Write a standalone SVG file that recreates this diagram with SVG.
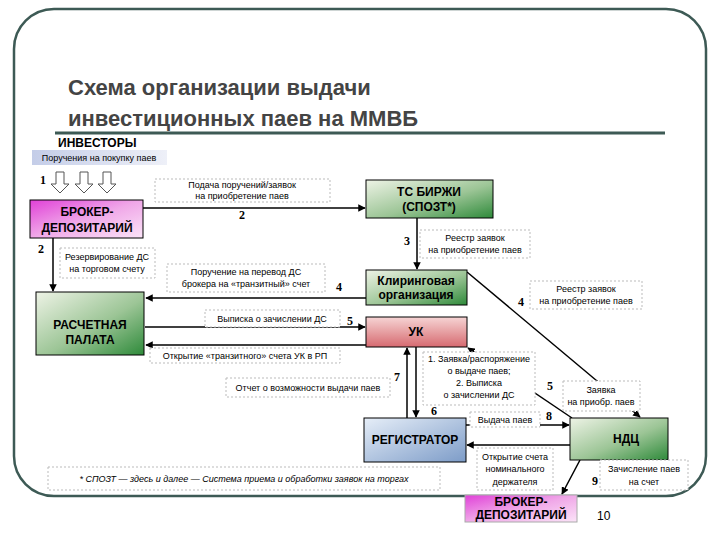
<svg xmlns="http://www.w3.org/2000/svg" width="720" height="540" viewBox="0 0 720 540">
<defs>
<linearGradient id="gG" x1="0" y1="0" x2="1" y2="1"><stop offset="0" stop-color="#eef3e6"/><stop offset="0.55" stop-color="#9cc596"/><stop offset="1" stop-color="#2e8a3a"/></linearGradient>
<linearGradient id="gP" x1="0" y1="0" x2="1" y2="1"><stop offset="0" stop-color="#e040d8"/><stop offset="0.5" stop-color="#f0a8e8"/><stop offset="1" stop-color="#fbe4f8"/></linearGradient>
<linearGradient id="gR" x1="0" y1="0" x2="0" y2="1"><stop offset="0" stop-color="#f6d4d4"/><stop offset="1" stop-color="#d66a70"/></linearGradient>
<linearGradient id="gB" x1="0" y1="0" x2="1" y2="1"><stop offset="0" stop-color="#e6eef8"/><stop offset="1" stop-color="#7d9cc8"/></linearGradient>
<linearGradient id="gL" x1="0" y1="0" x2="1" y2="0"><stop offset="0" stop-color="#c4cde8"/><stop offset="1" stop-color="#eef0f8"/></linearGradient>
<marker id="ah" viewBox="0 0 10 10" refX="9" refY="5" markerWidth="5" markerHeight="5" orient="auto"><path d="M0,0 L10,5 L0,10 z" fill="#000"/></marker>
</defs>
<style>
.t{font-family:"Liberation Sans",Arial,sans-serif;}
.lb{font-family:"Liberation Sans",Arial,sans-serif;font-size:9px;fill:#000;text-anchor:middle;}
.nt{font-family:"Liberation Sans",Arial,sans-serif;font-size:12px;font-weight:bold;fill:#000;text-anchor:middle;}
.num{font-family:"Liberation Serif",serif;font-size:12px;font-weight:bold;}
.dl{fill:#fff;stroke:#bbb;stroke-dasharray:2,2;stroke-width:1;}
.box{stroke:#000;stroke-width:1;}
.c{stroke:#000;stroke-width:1.5;fill:none;marker-end:url(#ah);}
.cl{stroke:#000;stroke-width:1.5;fill:none;}
</style>
<rect width="720" height="540" fill="#fff"/>
<rect x="14" y="9" width="692" height="487" rx="40" fill="none" stroke="#3d5a55" stroke-width="2.5"/>
<text class="t" x="68" y="95" font-size="22" font-weight="bold" fill="#444">Схема организации выдачи</text>
<text class="t" x="68" y="126" font-size="22" font-weight="bold" fill="#444">инвестиционных паев на ММВБ</text>
<line x1="55" y1="133" x2="665" y2="133" stroke="#3d5a55" stroke-width="3"/>

<g id="connectors">
<line class="c" x1="143" y1="208" x2="365" y2="208"/>
<line class="c" x1="53" y1="238" x2="53" y2="291"/>
<line class="c" x1="417" y1="218" x2="417" y2="269"/>
<line class="c" x1="366" y1="298" x2="146" y2="298"/>
<line class="c" x1="467" y1="272" x2="640" y2="417"/>
<line class="c" x1="145" y1="327" x2="365" y2="327"/>
<line class="c" x1="366" y1="345" x2="146" y2="345"/>
<line class="c" x1="407" y1="418" x2="407" y2="348"/>
<line class="c" x1="416" y1="347" x2="416" y2="417"/>
<line class="c" x1="572" y1="418" x2="468" y2="348"/>
<line class="c" x1="466" y1="425" x2="569" y2="425"/>
<line class="c" x1="570" y1="445" x2="467" y2="445"/>
<line class="c" x1="580" y1="460" x2="562" y2="494"/>
</g>

<g id="investors">
<text class="t" x="58" y="147" font-size="12" font-weight="bold">ИНВЕСТОРЫ</text>
<rect x="32" y="150" width="135" height="15" fill="url(#gL)"/>
<text class="lb" x="99" y="161">Поручения на покупку паев</text>
<text class="num" x="40" y="184">1</text>
<g fill="#fff" stroke="#555" stroke-width="1">
<path d="M56,172 h8 v12 h5 l-9,9 l-9,-9 h5 z"/>
<path d="M80,172 h8 v12 h5 l-9,9 l-9,-9 h5 z"/>
<path d="M103,172 h8 v12 h5 l-9,9 l-9,-9 h5 z"/>
</g>
</g>
<g id="broker1">
<rect class="box" x="30" y="200" width="113" height="38" fill="url(#gP)"/>
<text class="nt" x="87" y="216">БРОКЕР-</text><text class="nt" x="87" y="232">ДЕПОЗИТАРИЙ</text>
</g>
<g id="ts">
<rect class="box" x="366" y="180" width="127" height="38" fill="url(#gG)"/>
<text class="nt" x="429" y="196">ТС БИРЖИ</text><text class="nt" x="429" y="211">(СПОЗТ*)</text>
</g>
<g id="rp">
<rect class="box" x="36" y="292" width="108" height="63" fill="url(#gG)"/>
<text class="nt" x="90" y="329">РАСЧЕТНАЯ</text><text class="nt" x="90" y="344">ПАЛАТА</text>
</g>
<g id="clearing">
<rect class="box" x="366" y="270" width="101" height="35" fill="url(#gG)"/>
<text class="nt" x="416" y="285" font-size="11">Клиринговая</text><text class="nt" x="416" y="299" font-size="11">организация</text>
</g>
<g id="uk">
<rect class="box" x="366" y="317" width="101" height="30" fill="url(#gR)"/>
<text class="nt" x="416" y="336">УК</text>
</g>
<g id="registrar">
<rect class="box" x="364" y="418" width="102" height="44" fill="url(#gB)"/>
<text class="nt" x="415" y="444">РЕГИСТРАТОР</text>
</g>
<g id="ndc">
<rect class="box" x="570" y="418" width="98" height="42" fill="url(#gG)"/>
<text class="nt" x="626" y="443">НДЦ</text>
</g>
<g id="broker2">
<rect x="465" y="495" width="112" height="27" fill="url(#gP)" stroke="#aaa"/>
<text class="nt" x="521" y="506" font-size="11">БРОКЕР-</text><text class="nt" x="521" y="519" font-size="11">ДЕПОЗИТАРИЙ</text>
</g>

<g id="labels">
<rect class="dl" x="155" y="179" width="175" height="23"/>
<text class="lb" x="242" y="188">Подача поручений/заявок</text><text class="lb" x="242" y="199">на приобретение паев</text>
<text class="num" x="239" y="219">2</text>
<text class="num" x="38" y="253">2</text>
<rect class="dl" x="60" y="248" width="95" height="30"/>
<text class="lb" x="107" y="260">Резервирование ДС</text><text class="lb" x="107" y="272">на торговом счету</text>
<rect class="dl" x="167" y="264" width="158" height="28"/>
<text class="lb" x="246" y="275">Поручение на перевод ДС</text><text class="lb" x="246" y="287">брокера на «транзитный» счет</text>
<text class="num" x="336" y="291">4</text>
<text class="num" x="404" y="245">3</text>
<rect class="dl" x="420" y="230" width="110" height="28"/>
<text class="lb" x="475" y="241">Реестр заявок</text><text class="lb" x="475" y="253">на приобретение паев</text>
<text class="num" x="518" y="306">4</text>
<rect class="dl" x="530" y="281" width="112" height="28"/>
<text class="lb" x="586" y="292">Реестр заявок</text><text class="lb" x="586" y="304">на приобретение паев</text>
<rect class="dl" x="205" y="310" width="135" height="17"/>
<text class="lb" x="272" y="322">Выписка о зачислении ДС</text>
<text class="num" x="347" y="325">5</text>
<rect class="dl" x="150" y="348" width="190" height="15"/>
<text class="lb" x="245" y="359">Открытие «транзитного» счета УК в РП</text>
<rect class="dl" x="226" y="378" width="164" height="19"/>
<text class="lb" x="308" y="391">Отчет о возможности выдачи паев</text>
<text class="num" x="394" y="381">7</text>
<text class="num" x="431" y="415">6</text>
<rect class="dl" x="423" y="352" width="112" height="53"/>
<text class="lb" x="479" y="362">1. Заявка/распоряжение</text><text class="lb" x="479" y="374">о выдаче паев;</text><text class="lb" x="479" y="386">2. Выписка</text><text class="lb" x="479" y="398">о зачислении ДС</text>
<text class="num" x="547" y="390">5</text>
<rect class="dl" x="563" y="381" width="77" height="30"/>
<text class="lb" x="601" y="393">Заявка</text><text class="lb" x="601" y="405">на приобр. паев</text>
<rect class="dl" x="470" y="412" width="70" height="15"/>
<text class="lb" x="505" y="423">Выдача паев</text>
<text class="num" x="546" y="420">8</text>
<rect class="dl" x="477" y="448" width="76" height="42"/>
<text class="lb" x="515" y="460">Открытие счета</text><text class="lb" x="515" y="472">номинального</text><text class="lb" x="515" y="485">держателя</text>
<text class="num" x="592" y="485">9</text>
<rect class="dl" x="600" y="460" width="88" height="30"/>
<text class="lb" x="644" y="472">Зачисление паев</text><text class="lb" x="644" y="485">на счет</text>
<rect class="dl" x="48" y="467" width="392" height="23"/>
<text class="lb" x="244" y="482" font-style="italic">* СПОЗТ — здесь и далее — Система приема и обработки заявок на торгах</text>
<text class="t" x="597" y="520" font-size="12">10</text>
</g>
</svg>
